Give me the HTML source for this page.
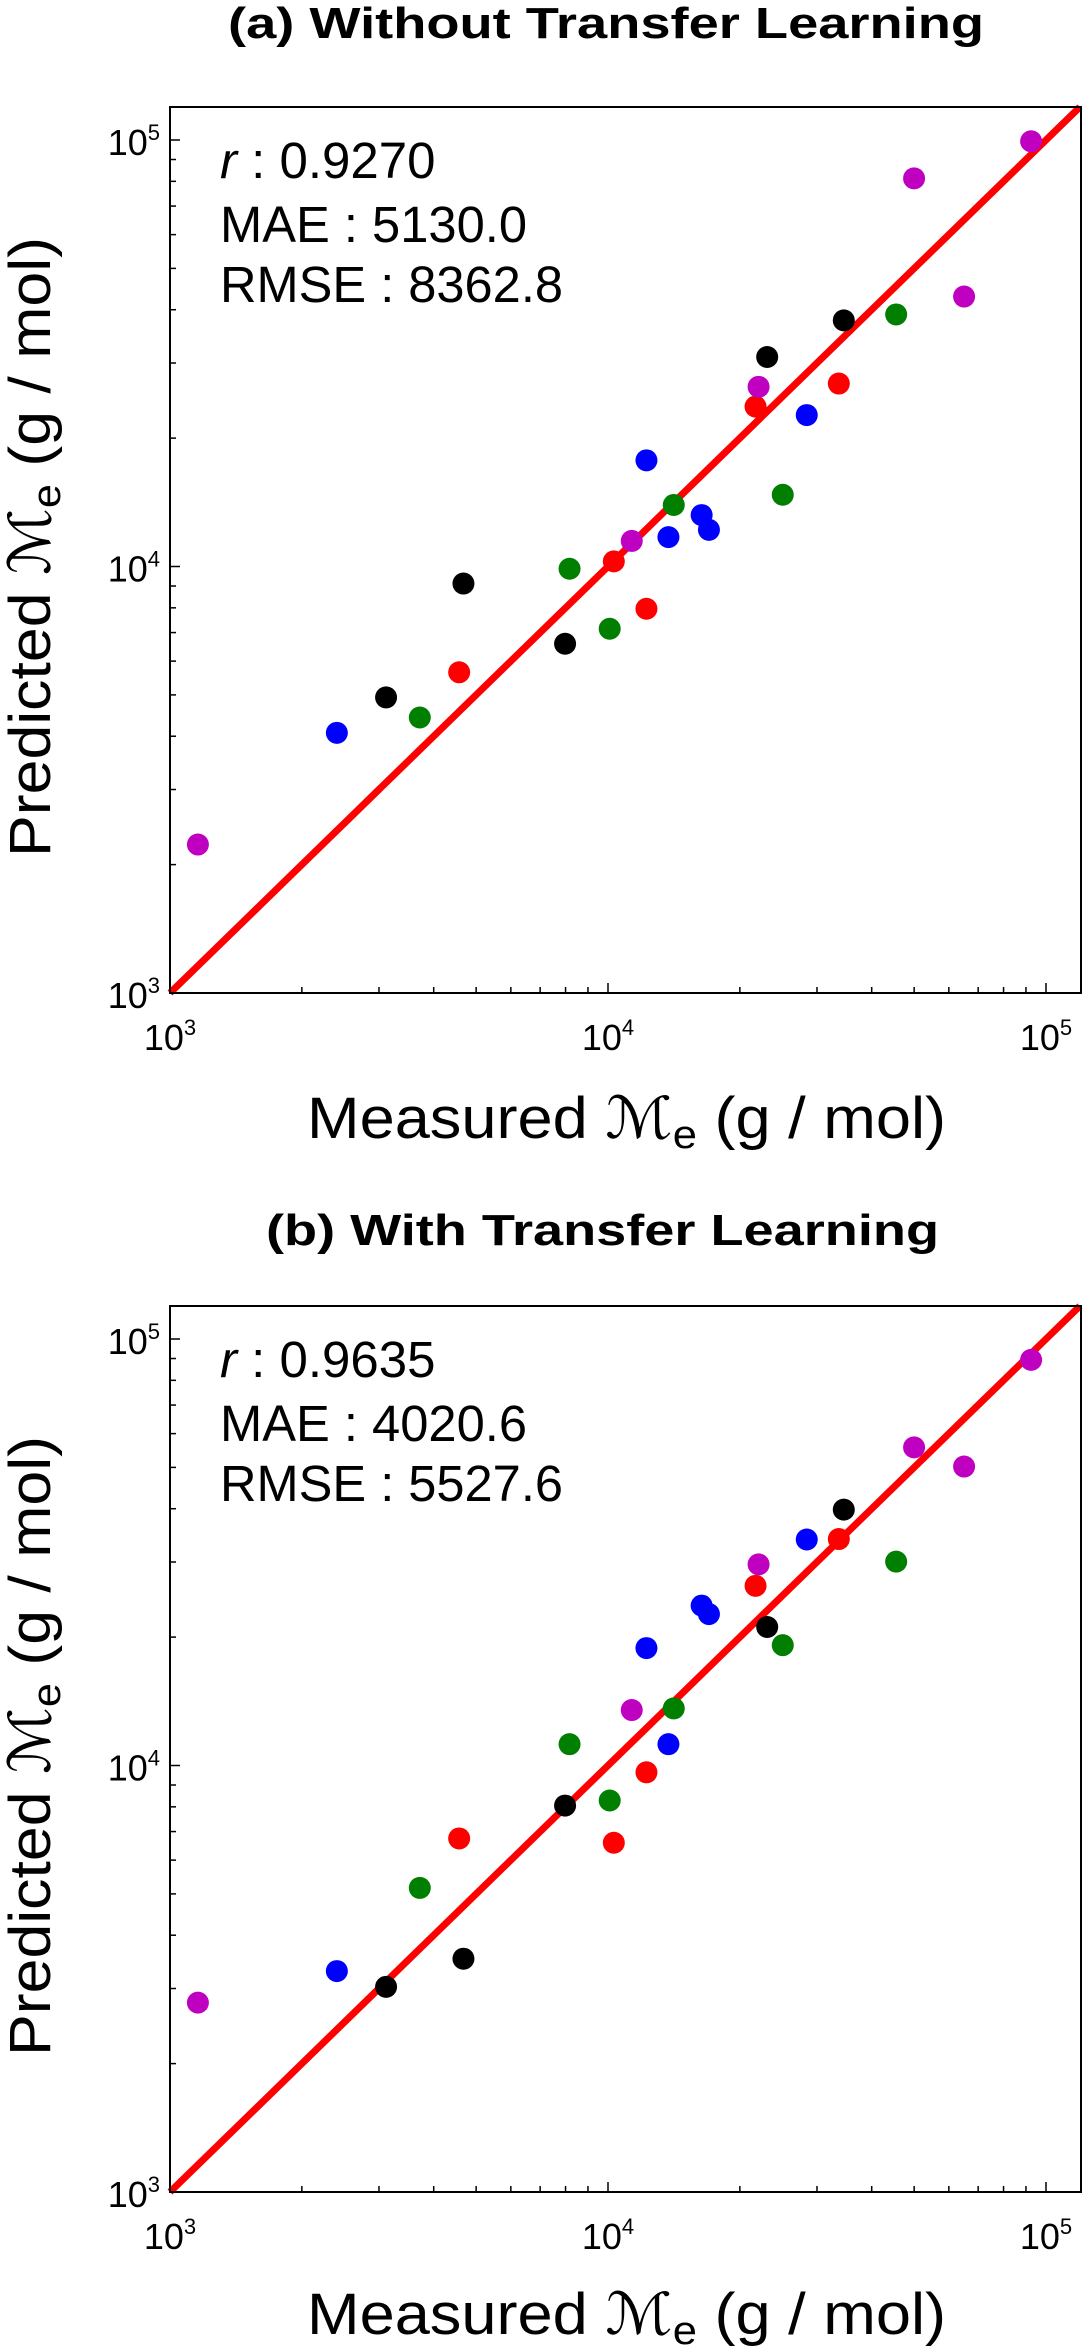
<!DOCTYPE html>
<html><head><meta charset="utf-8"><style>
html,body{margin:0;padding:0;background:#fff;}
svg{display:block;font-family:"Liberation Sans","DejaVu Sans",sans-serif;}
</style></head><body>
<svg id="fig" width="1083" height="2348" viewBox="0 0 1083 2348" xmlns="http://www.w3.org/2000/svg"></svg>
<script>
const measured = [1158,2404,3114,3718,4573,4677,7980,8170,10090,10310,11330,12240,12240,13740,14130,16360,17000,21720,22070,23090,25060,28430,33650,34540,45490,49980,65010,92470];
const colors = ['m','b','k','g','r','k','k','g','g','r','m','r','b','b','g','b','b','r','m','k','g','b','r','k','g','m','m','m'];
const predictedA = [2229,4074,4932,4426,5649,9120,6590,9880,7145,10280,11480,7960,17740,11720,13940,13200,12190,23710,26380,30990,14730,22650,26850,37760,38990,81280,42950,99310];
const predictedB = [2780,3296,3027,5164,6745,3524,8054,11220,8279,6590,13490,9640,18850,11220,13610,23710,22650,26380,29620,21120,19150,33880,33960,39810,30060,55700,50230,89330];
const tickExps = [3,4,5];
const statsA = ['0.9270','5130.0','8362.8'];
const statsB = ['0.9635','4020.6','5527.6'];
const titles = ['(a) Without Transfer Learning','(b) With Transfer Learning'];

const NS='http://www.w3.org/2000/svg';
const svg=document.getElementById('fig');
const colMap={m:'#c000c0',b:'#0000ff',k:'#000000',g:'#007f00',r:'#ff0000'};
function mk(tag,attrs,parent,text){const e=document.createElementNS(NS,tag);for(const k in attrs)e.setAttribute(k,attrs[k]);if(text!==undefined)e.textContent=text;(parent||svg).appendChild(e);return e;}

function panel(off,pred,stats,title,titleX,titleW,key){
  const L=170,R=1081,T=107+off,B=993+off;
  const xDec=438, yDec=426.5;
  const sx=v=>L+(Math.log10(v)-3)*xDec;
  const sy=v=>B-(Math.log10(v)-3)*yDec;
  const g=mk('g',{});
  
  
  const t=mk('text',{x:titleX,y:38+off+(key==='b'?8:0),'font-size':44,'font-weight':'bold',textLength:titleW,lengthAdjust:'spacingAndGlyphs'},g,title);
  
  
  for(let e=3;e<=5;e++){for(let m=1;m<=9;m++){const v=m*Math.pow(10,e);
    const x=sx(v); if(x<=R+0.5){const len=m===1?10:6;
      const tk=mk('line',{x1:x,y1:B,x2:x,y2:B-len,stroke:'#000','stroke-width':1.5},g);
      
      }
    const y=sy(v); if(y>=T-0.5){const len=m===1?10:6;
      const tk=mk('line',{x1:L,y1:y,x2:L+len,y2:y,stroke:'#000','stroke-width':1.5},g);
      
      }
  }}
  tickExps.forEach(e=>{
    const v=Math.pow(10,e);
    const xl=mk('text',{x:sx(v),y:1050+off,'font-size':36,'text-anchor':'middle'},g);
    
    
    xl.appendChild(document.createTextNode('10'));
    mk('tspan',{'font-size':22,dy:-15},xl,String(e));
    const yl=mk('text',{x:160,y:sy(v)+15,'font-size':36,'text-anchor':'end'},g);
    
    
    yl.appendChild(document.createTextNode('10'));
    mk('tspan',{'font-size':22,dy:-15},yl,String(e));
  });
  const vmax=Math.pow(10,3+(R-L)/xDec);
  const vmaxY=Math.pow(10,3+(B-T)/yDec);
  const vm=Math.min(vmax,vmaxY);
  const ln=mk('line',{x1:sx(1000),y1:sy(1000),x2:sx(vm),y2:sy(vm),stroke:'#ff0000','stroke-width':7},g);
  
  
  measured.forEach((mv,i)=>{
    const c=mk('circle',{cx:sx(mv),cy:sy(pred[i]),r:11,fill:colMap[colors[i]]},g);
    
    
  });
  const fr=mk('rect',{x:L,y:T,width:R-L,height:B-T,fill:'none',stroke:'#000','stroke-width':2},g);
  
  
  const s1=mk('text',{x:220,y:178+off,'font-size':51},g);
  
  
  mk('tspan',{'font-style':'italic'},s1,'r');
  s1.appendChild(document.createTextNode(' : '+stats[0]));
  const s2=mk('text',{x:220,y:242+off,'font-size':51,textLength:307,lengthAdjust:'spacingAndGlyphs'},g,'MAE : '+stats[1]);
  
  
  const s3=mk('text',{x:220,y:302+off,'font-size':51,textLength:343,lengthAdjust:'spacingAndGlyphs'},g,'RMSE : '+stats[2]);
  
  
  const xt=mk('text',{x:307,y:1138+off+(key==='b'?-3:0),'font-size':58,textLength:639,lengthAdjust:'spacingAndGlyphs'},g);
  
  
  xt.appendChild(document.createTextNode('Measured '));
  mk('tspan',{'font-style':'italic'},xt,'ℳ');
  mk('tspan',{'font-size':40,dy:10},xt,'e');
  mk('tspan',{dy:-10},xt,' (g / mol)');
  const yt=mk('text',{x:0,y:0,'font-size':58,textLength:620,lengthAdjust:'spacingAndGlyphs',transform:`translate(50,${857+off}) rotate(-90)`},g);
  
  
  yt.appendChild(document.createTextNode('Predicted '));
  mk('tspan',{'font-style':'italic'},yt,'ℳ');
  mk('tspan',{'font-size':40,dy:10},yt,'e');
  mk('tspan',{dy:-10},yt,' (g / mol)');
}
panel(0,predictedA,statsA,titles[0],228,756,'a');
panel(1199,predictedB,statsB,titles[1],266,673,'b');
</script>
</body></html>
